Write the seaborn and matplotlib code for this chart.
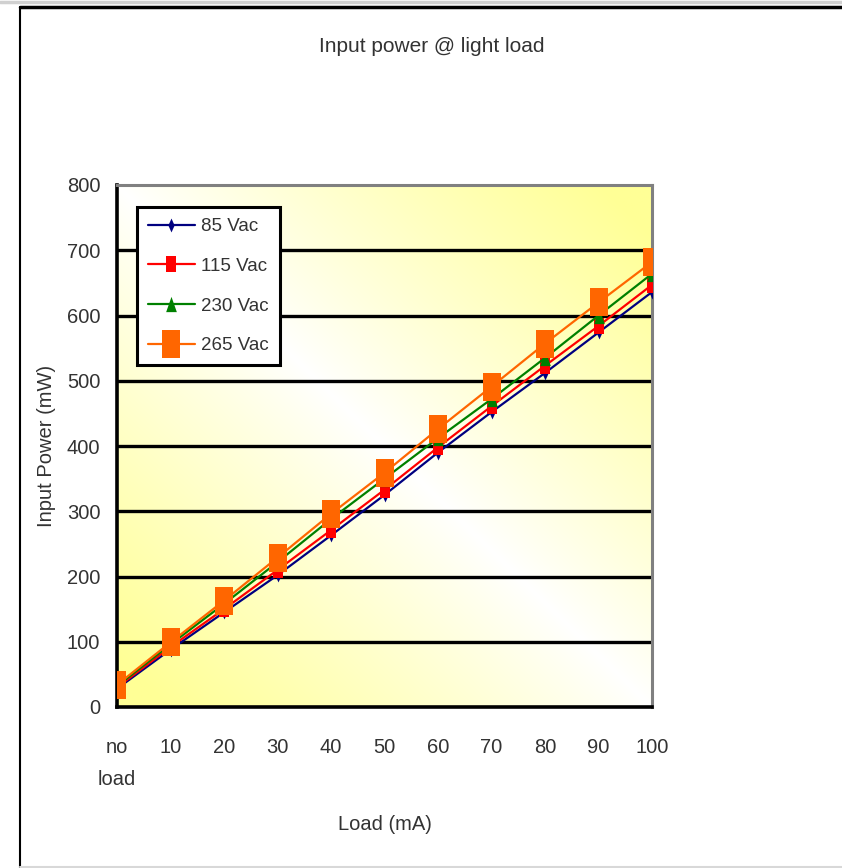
import numpy as np
import pandas as pd
import matplotlib
matplotlib.use("Agg")
import matplotlib.pyplot as plt
from matplotlib.lines import Line2D
import seaborn as sns

# ---- data ----
load_labels = ["no\nload", "10", "20", "30", "40", "50", "60", "70", "80", "90", "100"]
vac_85 = [28, 88, 145, 202, 263, 325, 390, 452, 512, 574, 636]
vac_115 = [30, 92, 150, 210, 271, 333, 398, 461, 523, 584, 647]
vac_230 = [32, 96, 158, 222, 288, 350, 412, 472, 535, 600, 664]
vac_265 = [34, 99, 163, 229, 296, 359, 426, 491, 557, 620, 682]
series_names = ["85 Vac", "115 Vac", "230 Vac", "265 Vac"]
y_ticks = [0, 100, 200, 300, 400, 500, 600, 700, 800]

sns.set_theme(style="white")
plt.rcParams["font.family"] = ["Liberation Sans", "DejaVu Sans"]
text_color = "#333333"

fig = plt.figure(figsize=(8.42, 8.68), dpi=100)
fig.patch.set_facecolor("white")
ax = fig.add_axes([117 / 842, 1 - 707 / 868, 535 / 842, 522 / 868])

# diagonal yellow/white gradient background of the plot area
n = 300
u, v = np.meshgrid(np.linspace(0, 1, n), np.linspace(0, 1, n))
t = np.clip(np.abs(u + v - 1.0) * 1.1, 0, 1) ** 0.9
yellow = np.array([255, 255, 150]) / 255.0
white = np.array([255, 255, 255]) / 255.0
img = white[None, None, :] * (1 - t[..., None]) + yellow[None, None, :] * t[..., None]
ax.imshow(img, extent=(0, 1, 0, 1), transform=ax.transAxes, origin="lower",
          aspect="auto", zorder=0, interpolation="bilinear")

x = np.arange(len(load_labels))
df = pd.DataFrame({
    "x": np.tile(x, 4),
    "power": vac_85 + vac_115 + vac_230 + vac_265,
    "series": np.repeat(series_names, len(x)),
})

def rect(w):
    return [(-w, -1), (w, -1), (w, 1), (-w, 1), (-w, -1)]

styles = {
    "85 Vac": dict(color="#000080", marker=[(0, 1), (0.45, 0), (0, -1), (-0.45, 0), (0, 1)], markersize=10),
    "115 Vac": dict(color="#FF0000", marker=rect(0.6), markersize=12),
    "230 Vac": dict(color="#008000", marker=[(0, 1), (0.7, -1), (-0.7, -1), (0, 1)], markersize=11),
    "265 Vac": dict(color="#FF6600", marker=rect(0.64), markersize=20),
}

for name in series_names:
    st = styles[name]
    sns.lineplot(data=df[df["series"] == name], x="x", y="power", ax=ax,
                 color=st["color"], marker=st["marker"], markersize=st["markersize"],
                 markeredgewidth=0, markerfacecolor=st["color"], linewidth=1.6,
                 label=name, zorder=3)

ax.set_xlim(0, 10)
ax.set_ylim(0, 800)
ax.set_xticks(x)
ax.set_xticklabels(load_labels, fontsize=14.5, color=text_color, linespacing=1.9)
ax.set_yticks(y_ticks)
ax.set_yticklabels([str(t) for t in y_ticks], fontsize=14.5, color=text_color)
ax.tick_params(axis="x", direction="in", length=7, width=2, color="black", pad=22)
ax.tick_params(axis="y", direction="in", length=0, pad=12)
for lab in ax.get_xticklabels():
    lab.set_verticalalignment("top")

ax.grid(False)
for yt in y_ticks[1:-1]:
    ax.axhline(yt, color="black", linewidth=2.4, zorder=1)

for side in ["left", "bottom"]:
    ax.spines[side].set_color("black")
    ax.spines[side].set_linewidth(2.6)
for side in ["top", "right"]:
    ax.spines[side].set_color("#808080")
    ax.spines[side].set_linewidth(2.2)
    ax.spines[side].set_visible(True)

ax.set_xlabel("Load (mA)", fontsize=14.5, color=text_color, labelpad=19)
ax.set_ylabel("Input Power (mW)", fontsize=14.5, color=text_color, labelpad=8)

leg = ax.legend(loc="upper left", bbox_to_anchor=(0.037, 0.958), fontsize=13.5,
                frameon=True, fancybox=False, handlelength=2.5, handletextpad=0.35,
                labelspacing=1.2, borderpad=0.6, borderaxespad=0)
leg.get_frame().set_edgecolor("black")
leg.get_frame().set_linewidth(2.2)
leg.get_frame().set_facecolor("white")
leg.get_frame().set_alpha(1)
for txt in leg.get_texts():
    txt.set_color(text_color)

fig.text(432 / 842, 1 - 47 / 868, "Input power @ light load", fontsize=15,
         color=text_color, ha="center", va="center")

# page frame around the chart
fig.add_artist(Line2D([0, 1], [1 - 2 / 868, 1 - 2 / 868], transform=fig.transFigure,
                      color="#d0d0d0", linewidth=2.5))
fig.add_artist(Line2D([20 / 842, 1], [1 - 6.5 / 868, 1 - 6.5 / 868], transform=fig.transFigure,
                      color="black", linewidth=2.5))
fig.add_artist(Line2D([20 / 842, 20 / 842], [0, 1 - 6.5 / 868], transform=fig.transFigure,
                      color="black", linewidth=1.5))
fig.add_artist(Line2D([20 / 842, 1], [1 / 868, 1 / 868], transform=fig.transFigure,
                      color="#d8d8d8", linewidth=1.5))

fig.savefig("out.png", dpi=100, facecolor="white")
